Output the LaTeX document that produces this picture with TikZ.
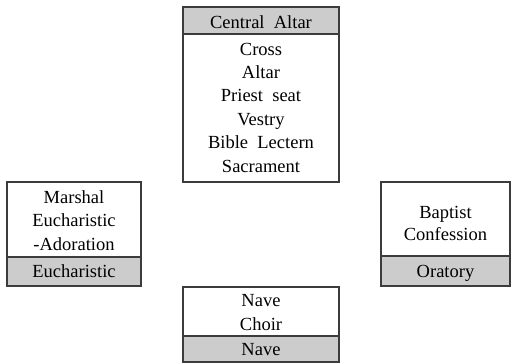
\documentclass[tikz,border=0pt]{standalone}
\usepackage{fontspec}
\setmainfont{Liberation Serif}
\newfontfamily\tmsfont{Liberation Serif}
\definecolor{hdrgray}{RGB}{204,204,204}
\definecolor{edge}{RGB}{60,60,60}
\begin{document}
\begin{tikzpicture}[x=1bp,y=-1bp,
  frame/.style={draw=edge,line width=1.1bp},
  band/.style={fill=hdrgray,draw=edge,line width=1.1bp},
  lbl/.style={anchor=base,inner sep=0pt,font=\tmsfont\fontsize{18.5bp}{22bp}\selectfont}]
\useasboundingbox (0,0) rectangle (511,363);
% top box
\filldraw[band] (183,7) rectangle (339,34);
\draw[frame] (183,7) rectangle (339,182);
\node[lbl] (ca) at (261,28) {Central\ \ Altar};
\node[lbl] (c1) at (261,55) {Cross};
\node[lbl] (c2) at (261,78.4) {Altar};
\node[lbl] (c3) at (261,101.8) {Priest\ \ seat};
\node[lbl] (c4) at (261,125.2) {Vestry};
\node[lbl] (c5) at (261,148.6) {Bible\ \ Lectern};
\node[lbl] (c6) at (261,172) {Sacrament};
% left box
\filldraw[band] (7,257) rectangle (141,286);
\draw[frame] (7,182) rectangle (141,286);
\node[lbl] (l1) at (74,203) {Marshal};
\node[lbl] (l2) at (74,226.5) {Eucharistic};
\node[lbl] (l3) at (74,250) {-Adoration};
\node[lbl] (l4) at (74,277) {Eucharistic};
% right box
\filldraw[band] (381,256) rectangle (510,286);
\draw[frame] (381,182) rectangle (510,286);
\node[lbl] (r1) at (445.5,218) {Baptist};
\node[lbl] (r2) at (445.5,240) {Confession};
\node[lbl] (r3) at (445.5,277) {Oratory};
% bottom box
\filldraw[band] (183,336) rectangle (339,362);
\draw[frame] (183,287) rectangle (339,362);
\node[lbl] (b1) at (261,306) {Nave};
\node[lbl] (b2) at (261,330) {Choir};
\node[lbl] (b3) at (261,355) {Nave};
\end{tikzpicture}
\end{document}
